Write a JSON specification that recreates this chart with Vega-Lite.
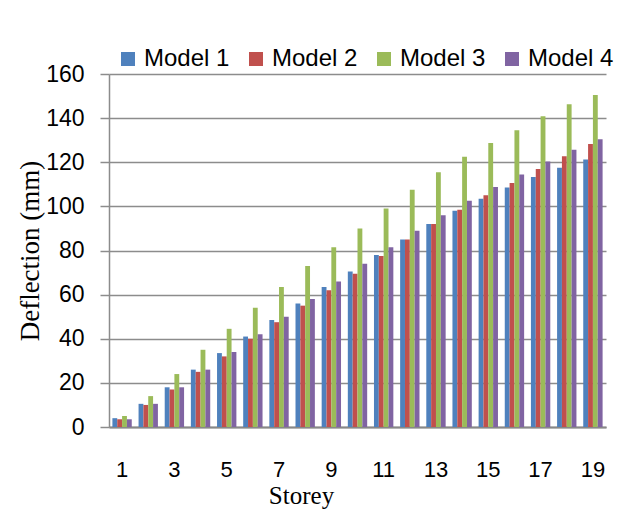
{
  "$schema": "https://vega.github.io/schema/vega-lite/v6.json",
  "autosize": "none",
  "width": 497,
  "height": 353,
  "padding": {"left": 109, "top": 74, "right": 15, "bottom": 93},
  "background": "white",
  "config": {
    "view": {"stroke": null},
    "font": "Liberation Sans"
  },
  "data": {
    "values": [
      {"storey": 1, "model": "Model 1", "value": 4}, {"storey": 1, "model": "Model 2", "value": 3.5}, {"storey": 1, "model": "Model 3", "value": 5}, {"storey": 1, "model": "Model 4", "value": 3.5},
      {"storey": 2, "model": "Model 1", "value": 10.5}, {"storey": 2, "model": "Model 2", "value": 10}, {"storey": 2, "model": "Model 3", "value": 14}, {"storey": 2, "model": "Model 4", "value": 10.5},
      {"storey": 3, "model": "Model 1", "value": 18}, {"storey": 3, "model": "Model 2", "value": 17}, {"storey": 3, "model": "Model 3", "value": 24}, {"storey": 3, "model": "Model 4", "value": 18},
      {"storey": 4, "model": "Model 1", "value": 26}, {"storey": 4, "model": "Model 2", "value": 25}, {"storey": 4, "model": "Model 3", "value": 35}, {"storey": 4, "model": "Model 4", "value": 26},
      {"storey": 5, "model": "Model 1", "value": 33.5}, {"storey": 5, "model": "Model 2", "value": 32}, {"storey": 5, "model": "Model 3", "value": 44.5}, {"storey": 5, "model": "Model 4", "value": 34},
      {"storey": 6, "model": "Model 1", "value": 41}, {"storey": 6, "model": "Model 2", "value": 40}, {"storey": 6, "model": "Model 3", "value": 54}, {"storey": 6, "model": "Model 4", "value": 42},
      {"storey": 7, "model": "Model 1", "value": 48.5}, {"storey": 7, "model": "Model 2", "value": 47.5}, {"storey": 7, "model": "Model 3", "value": 63.5}, {"storey": 7, "model": "Model 4", "value": 50},
      {"storey": 8, "model": "Model 1", "value": 56}, {"storey": 8, "model": "Model 2", "value": 55}, {"storey": 8, "model": "Model 3", "value": 73}, {"storey": 8, "model": "Model 4", "value": 58},
      {"storey": 9, "model": "Model 1", "value": 63.5}, {"storey": 9, "model": "Model 2", "value": 62}, {"storey": 9, "model": "Model 3", "value": 81.5}, {"storey": 9, "model": "Model 4", "value": 66},
      {"storey": 10, "model": "Model 1", "value": 70.5}, {"storey": 10, "model": "Model 2", "value": 69.5}, {"storey": 10, "model": "Model 3", "value": 90}, {"storey": 10, "model": "Model 4", "value": 74},
      {"storey": 11, "model": "Model 1", "value": 78}, {"storey": 11, "model": "Model 2", "value": 77.5}, {"storey": 11, "model": "Model 3", "value": 99}, {"storey": 11, "model": "Model 4", "value": 81.5},
      {"storey": 12, "model": "Model 1", "value": 85}, {"storey": 12, "model": "Model 2", "value": 85}, {"storey": 12, "model": "Model 3", "value": 107.5}, {"storey": 12, "model": "Model 4", "value": 89},
      {"storey": 13, "model": "Model 1", "value": 92}, {"storey": 13, "model": "Model 2", "value": 92}, {"storey": 13, "model": "Model 3", "value": 115.5}, {"storey": 13, "model": "Model 4", "value": 96},
      {"storey": 14, "model": "Model 1", "value": 98}, {"storey": 14, "model": "Model 2", "value": 98.5}, {"storey": 14, "model": "Model 3", "value": 122.5}, {"storey": 14, "model": "Model 4", "value": 102.5},
      {"storey": 15, "model": "Model 1", "value": 103.5}, {"storey": 15, "model": "Model 2", "value": 105}, {"storey": 15, "model": "Model 3", "value": 128.7}, {"storey": 15, "model": "Model 4", "value": 108.8},
      {"storey": 16, "model": "Model 1", "value": 108.5}, {"storey": 16, "model": "Model 2", "value": 110.6}, {"storey": 16, "model": "Model 3", "value": 134.5}, {"storey": 16, "model": "Model 4", "value": 114.4},
      {"storey": 17, "model": "Model 1", "value": 113.3}, {"storey": 17, "model": "Model 2", "value": 116.9}, {"storey": 17, "model": "Model 3", "value": 140.8}, {"storey": 17, "model": "Model 4", "value": 120.3},
      {"storey": 18, "model": "Model 1", "value": 117.5}, {"storey": 18, "model": "Model 2", "value": 122.7}, {"storey": 18, "model": "Model 3", "value": 146.3}, {"storey": 18, "model": "Model 4", "value": 125.7},
      {"storey": 19, "model": "Model 1", "value": 121.2}, {"storey": 19, "model": "Model 2", "value": 128.3}, {"storey": 19, "model": "Model 3", "value": 150.5}, {"storey": 19, "model": "Model 4", "value": 130.4}
    ]
  },
  "mark": {"type": "bar"},
  "encoding": {
    "x": {
      "field": "storey",
      "type": "ordinal",
      "scale": {"paddingInner": 0.26, "paddingOuter": 0.13},
      "axis": {
        "title": "Storey",
        "values": [1, 3, 5, 7, 9, 11, 13, 15, 17, 19],
        "labelAngle": 0,
        "labelFont": "Liberation Sans",
        "labelFontSize": 22,
        "labelColor": "black",
        "labelBaseline": "top",
        "labelPadding": 32,
        "ticks": false,
        "domainColor": "#888888",
        "domainWidth": 2,
        "titleFont": "Liberation Serif",
        "titleFontSize": 25,
        "titleFontWeight": "normal",
        "titleColor": "black",
        "titleX": 192,
        "titleY": 76,
        "titleAlign": "center",
        "titleBaseline": "alphabetic"
      }
    },
    "xOffset": {"field": "model", "type": "nominal", "scale": {"paddingInner": 0, "paddingOuter": 0}},
    "y": {
      "field": "value",
      "type": "quantitative",
      "scale": {"domain": [0, 160], "nice": false},
      "axis": {
        "title": "Deflection (mm)",
        "values": [0, 20, 40, 60, 80, 100, 120, 140, 160],
        "grid": true,
        "gridColor": "#8c8c8c",
        "gridWidth": 1.5,
        "tickColor": "#8c8c8c",
        "tickWidth": 1.5,
        "tickSize": 9,
        "domainColor": "#8c8c8c",
        "domainWidth": 1.5,
        "labelFont": "Liberation Sans",
        "labelFontSize": 23,
        "labelColor": "black",
        "labelPadding": 16,
        "titleFont": "Liberation Serif",
        "titleFontSize": 27,
        "titleFontWeight": "normal",
        "titleColor": "black",
        "titleAngle": 270,
        "titleX": -79,
        "titleY": 176.5,
        "titleAlign": "center",
        "titleBaseline": "middle"
      }
    },
    "color": {
      "field": "model",
      "type": "nominal",
      "scale": {"domain": ["Model 1", "Model 2", "Model 3", "Model 4"], "range": ["#4F81BD", "#C0504D", "#9BBB59", "#8064A2"]},
      "legend": {
        "title": null,
        "orient": "none",
        "legendX": 7,
        "legendY": -27,
        "direction": "horizontal",
        "symbolType": "square",
        "symbolSize": 196,
        "symbolStrokeWidth": 0,
        "labelFont": "Liberation Sans",
        "labelFontSize": 24,
        "labelColor": "black",
        "labelOffset": 4,
        "columnPadding": 14,
        "padding": 0
      }
    }
  }
}
